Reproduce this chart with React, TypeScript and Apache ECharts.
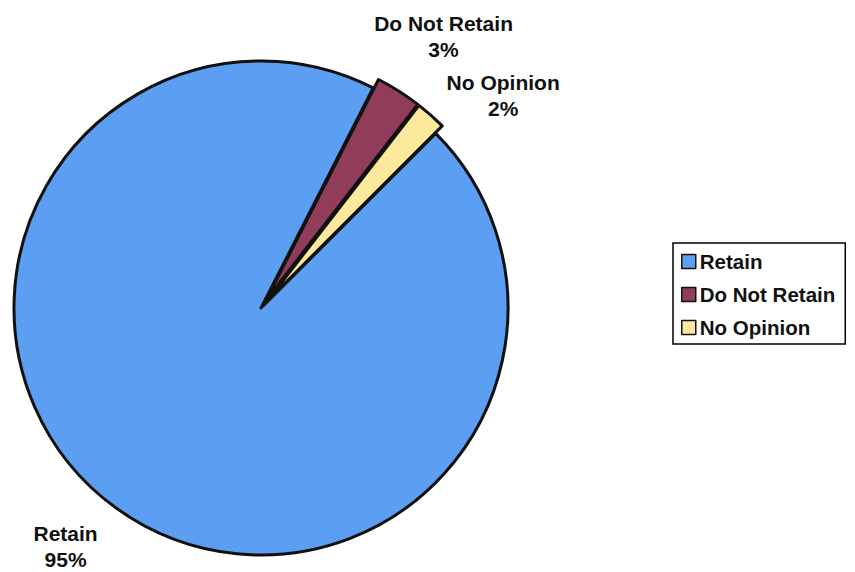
import React, { useEffect, useRef } from "react";
import * as echarts from "echarts";

const categories = ["Retain", "Do Not Retain", "No Opinion"];
const values = [95, 3, 2];
const exploded = [false, true, true];
const colors = ["#5b9ef2", "#923c5b", "#fde99c"];

// label line geometry per slice (style only)
const labelLen = [48, 65, 26];
const labelLen2 = [17, 5, 50];

const FONT = "'Liberation Sans', Arial, Helvetica, sans-serif";

export default function App() {
  const ref = useRef<HTMLDivElement>(null);
  useEffect(() => {
    if (!ref.current) return;
    const chart = echarts.init(ref.current, null, { renderer: "svg" });
    chart.setOption({
      animation: false,
      backgroundColor: "#ffffff",
      legend: {
        orient: "vertical",
        left: 673,
        top: 243,
        padding: [8, 10, 6, 8],
        borderColor: "#000",
        borderWidth: 1.5,
        itemWidth: 14,
        itemHeight: 14,
        itemGap: 12,
        itemStyle: { borderColor: "#111", borderWidth: 1.5 },
        icon: "rect",
        selectedMode: false,
        data: categories,
        textStyle: {
          color: "#111",
          fontFamily: FONT,
          fontWeight: "bold",
          fontSize: 20.5,
          lineHeight: 20,
          padding: [0, 0, 0, -1],
        },
      },
      series: [
        {
          type: "pie",
          center: [261, 308],
          radius: 247,
          startAngle: 45,
          clockwise: true,
          avoidLabelOverlap: false,
          selectedMode: "multiple",
          selectedOffset: 10,
          itemStyle: { borderColor: "#111", borderWidth: 3 },
          emphasis: { disabled: true },
          label: {
            show: true,
            position: "outside",
            formatter: "{b}\n{d}%",
            color: "#111",
            fontFamily: FONT,
            fontWeight: "bold",
            fontSize: 21,
            lineHeight: 26,
          },
          labelLine: { show: false },
          labelLayout: (p: any) => {
            const r = p.labelRect;
            const ax = p.align === "right" ? r.x + r.width : r.x;
            return {
              x: ax,
              y: r.y + r.height / 2,
              align: "center",
              verticalAlign: "middle",
            };
          },
          data: categories.map((name, i) => ({
            name,
            value: values[i],
            selected: exploded[i],
            itemStyle: { color: colors[i] },
            labelLine: { show: false, length: labelLen[i], length2: labelLen2[i] },
          })),
        },
      ],
    });
    return () => chart.dispose();
  }, []);
  return (
    <div
      ref={ref}
      style={{ position: "fixed", left: 0, top: 0, width: 855, height: 572 }}
    />
  );
}
